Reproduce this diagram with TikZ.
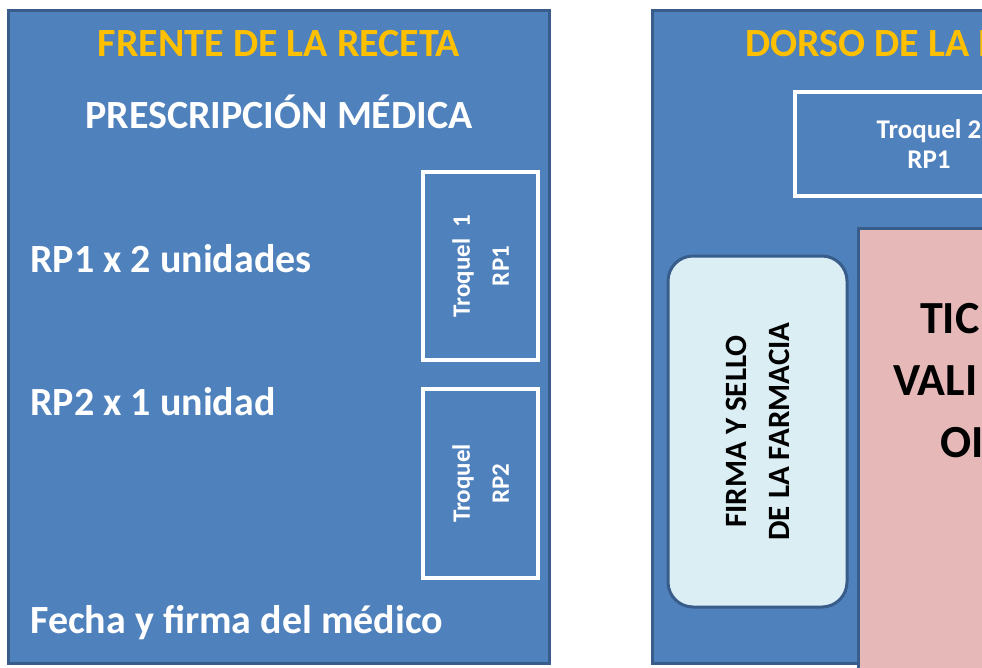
\documentclass[tikz,border=0pt]{standalone}
\usepackage{fontspec}
\setmainfont{Carlito}
\usetikzlibrary{positioning}
\definecolor{panelblue}{HTML}{4F81BD}
\definecolor{edgeblue}{HTML}{385D8A}
\definecolor{gold}{HTML}{FFC000}
\definecolor{paleblue}{HTML}{DBEEF4}
\definecolor{rosa}{HTML}{E6B9B8}

\begin{document}
\begin{tikzpicture}[x=1pt,y=-1pt,
    panel/.style={fill=panelblue, draw=edgeblue, line width=3pt},
    heading/.style={text=gold, font=\bfseries\fontsize{40}{44}\selectfont, inner sep=0pt},
    line/.style={text=white, font=\bfseries\fontsize{40}{44}\selectfont, inner sep=0pt, anchor=base west},
    troq/.style={draw=white, line width=4pt, text=white, align=center, inner sep=0pt,
      font=\bfseries\fontsize{25}{39}\selectfont},
    firma/.style={fill=paleblue, draw=edgeblue, line width=3pt, rounded corners=25pt,
      align=center, inner sep=0pt, font=\bfseries\fontsize{31}{43}\selectfont},
    ticket/.style={font=\bfseries\fontsize{46}{62}\selectfont, inner sep=0pt, anchor=base west}]
  \useasboundingbox (0,0) rectangle (982,667);
  \clip (0,0) rectangle (982,667);
  % frente
  \draw[panel] (8,10) rectangle (549,663);
  \node[heading, anchor=base] (frente) at (279,56) {FRENTE DE LA RECETA};
  \node[line, anchor=base] (presc) at (279,128) {PRESCRIPCIÓN MÉDICA};
  \node[line] (rp1) at (30,272) {RP1 x 2 unidades};
  \node[line] (rp2) at (30,415) {RP2 x 1 unidad};
  \node[line] (fecha) at (30,633) {Fecha y firma del médico};
  \node[troq, rotate=90, minimum width=188pt, minimum height=115pt] (t1) at (480.5,266) {Troquel\ \ 1\\RP1};
  \node[troq, rotate=90, minimum width=189pt, minimum height=115pt] (t2) at (480.5,483.5) {Troquel\\RP2};
  % dorso
  \draw[panel] (652,10) rectangle (1100,663);
  \node[heading, anchor=base west] (dorso) at (745,56) {DORSO DE LA R};
  \node[troq, minimum width=268pt, minimum height=104pt, font=\bfseries\fontsize{27}{30}\selectfont] (t3) at (929,144) {Troquel 2\\RP1};
  \node[firma, rotate=90, minimum width=351pt, minimum height=179pt] (firma) at (757.5,431.5) {FIRMA Y SELLO\\DE LA FARMACIA};
  \draw[fill=rosa, draw=edgeblue, line width=3pt] (858,228) rectangle (1100,720);
  \node[ticket] (tk1) at (920,333) {TIC};
  \node[ticket] (tk2) at (893,395) {VALI};
  \node[ticket] (tk3) at (940,457) {OI};
\end{tikzpicture}
\end{document}
